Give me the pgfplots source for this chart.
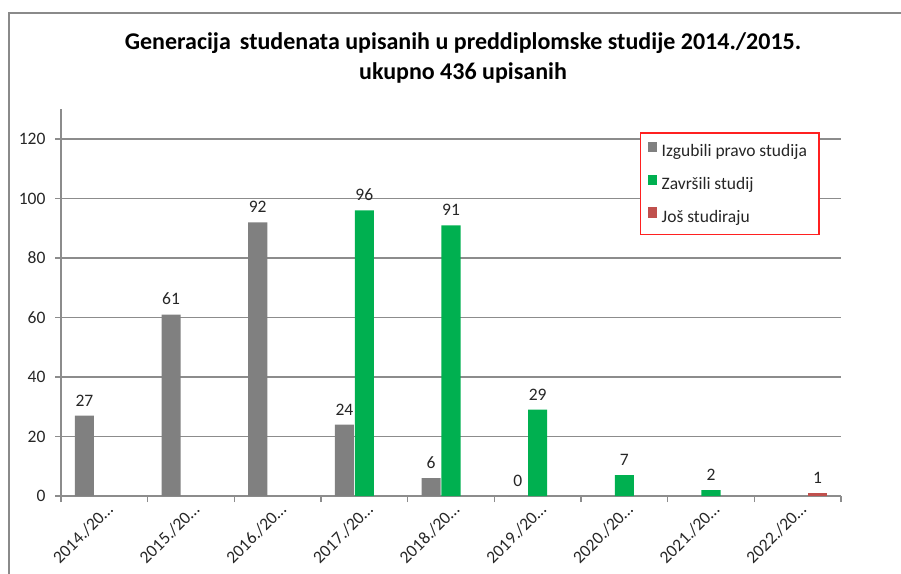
\documentclass[border=0pt]{standalone}
\usepackage{fontspec}
\setmainfont{Carlito}
\usepackage{pgfplots}
\pgfplotsset{compat=1.18}
\definecolor{barGray}{HTML}{808080}
\definecolor{barGreen}{HTML}{00B050}
\definecolor{barRed}{HTML}{C0504D}
\definecolor{gridGray}{HTML}{8C8C8C}
\definecolor{txt}{HTML}{262626}
\definecolor{frameGray}{HTML}{8A8A8A}
\definecolor{legRed}{HTML}{FF2020}
\begin{document}
\begin{tikzpicture}[x=1pt,y=1pt]
\path[use as bounding box] (0,0) rectangle (901,573);
\draw[frameGray, line width=2pt] (9,-5) -- (9,560) -- (910,560);
\node[font=\fontsize{24}{30}\selectfont\bfseries, anchor=base] at (463,523) {Generacija\hspace{0.15em} studenata upisanih u preddiplomske studije 2014./2015.};
\node[font=\fontsize{24}{30}\selectfont\bfseries, anchor=base] at (463,493) {ukupno 436 upisanih};
\begin{axis}[
  at={(61pt,77pt)}, anchor=south west,
  scale only axis, width=780pt, height=386.75pt,
  xmin=-0.5, xmax=8.5, ymin=0, ymax=130,
  axis x line*=bottom, axis y line*=left,
  axis line style={gridGray, line width=1.3pt},
  ytick={0,20,...,120},
  ymajorgrids, grid style={gridGray, line width=1.3pt},
  xtick={0,...,8},
  xticklabels={2014./20…,2015./20…,2016./20…,2017./20…,2018./20…,2019./20…,2020./20…,2021./20…,2022./20…},
  major x tick style={draw=none},
  minor xtick={-0.5,0.5,...,8.5},
  minor x tick style={gridGray, line width=1.3pt},
  major y tick style={gridGray, line width=1.3pt},
  tick align=outside,
  major tick length=6pt, minor tick length=6pt,
  /pgf/number format/assume math mode=true,
  tick label style={font=\fontsize{17.5}{20}\selectfont, text=txt},
  yticklabel style={xshift=-6pt},
  xticklabel style={xshift=8pt, yshift=-2pt, rotate=45, anchor=east},
  ybar, bar width=0.22,
  nodes near coords,
  every node near coord/.append style={font=\fontsize{17.5}{20}\selectfont, text=txt, yshift=6pt},
  legend image code/.code={\fill[#1] (0pt,0pt) rectangle (9pt,10.5pt);},
  legend style={at={(axis description cs:0.7423,0.941)}, anchor=north west,
    draw=legRed, line width=1.5pt, fill=white,
    font=\fontsize{17.5}{20}\selectfont, text=txt,
    inner xsep=7pt, inner ysep=9pt, row sep=14.5pt,
    nodes={inner xsep=5pt, inner ysep=0pt, text height=12pt, text depth=3.5pt}},
  legend cell align=left,
]
\addplot[fill=barGray, draw=none, bar shift=-0.23] coordinates {(0,27) (1,61) (2,92) (3,24) (4,6) (5,0)};
\addplot[fill=barGreen, draw=none, bar shift=0] coordinates {(3,96) (4,91) (5,29) (6,7) (7,2)};
\addplot[fill=barRed, draw=none, bar shift=0.23] coordinates {(8,1)};
\legend{Izgubili pravo studija, Završili studij, Još studiraju}
\end{axis}
\end{tikzpicture}
\end{document}
